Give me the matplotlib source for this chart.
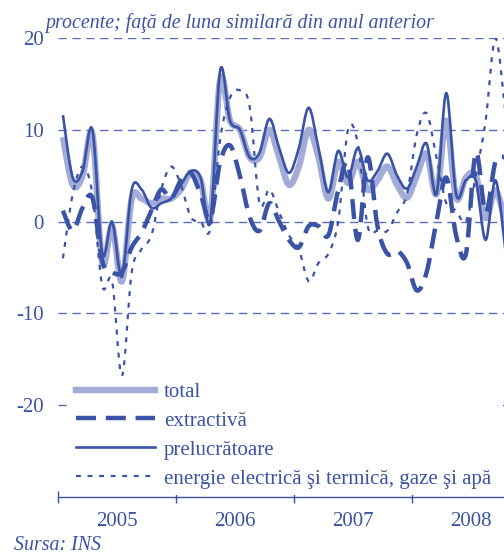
import numpy as np
import matplotlib
matplotlib.use("Agg")
import matplotlib.pyplot as plt
from matplotlib.path import Path
from matplotlib.patches import PathPatch
from matplotlib.lines import Line2D

# ---------------- data (monthly, Jan 2005 onwards) ----------------
years = ["2005", "2006", "2007", "2008"]
series_names = ["total", "extractivă", "prelucrătoare",
                "energie electrică şi termică, gaze şi apă"]

total = [9.2, 4, 5, 9.5, -4.5, -0.5, -6.5, 2.5, 2.5, 2, 2.5, 2.5,
         3.5, 5.3, 4.5, 0.5, 15.5, 11, 10, 7, 7, 10, 7, 4,
         6, 10, 7, 2.5, 6.5, 4.2, 6.5, 3.5, 4.5, 6, 4, 2.6,
         5, 7.4, 3, 11, 2.6, 4.8, 5, 0.4, 3.4, 0]
extractiva = [1.2, -1, 1.5, 2.6, -4.3, -5.5, -5.5, -2.8, -1.2, 1.2, 3.5, 2.5,
              4.5, 5.3, 3, 0.3, 6.5, 8.3, 5, 0.5, -1, 2, 0, -2,
              -2.8, -0.5, -0.5, -1.5, 3.4, 6.3, -2, 7, -0.5, -3.5, -3.2, -4.5,
              -7.5, -5.5, 0, 4.8, -1.5, -3.5, 7.5, 1, 6.5, 7]
prelucratoare = [11.6, 4.8, 5.5, 10, -3.5, 0, -6, 3.5, 3.5, 1.5, 2, 2.5,
                 4, 5.5, 4.8, 0, 16.5, 11, 10, 7, 7.5, 11.2, 8, 5.3,
                 8, 12.4, 8, 3.2, 7.7, 4.8, 8, 4.5, 5.5, 7.4, 5, 3.6,
                 6, 8.5, 3, 14, 3, 4.5, 4.5, -2, 4.5, -3]
energie = [-4, 3, 6, 3, -7, -6.5, -16.8, -5.5, -3, -1.5, 3.5, 6,
           4, 0.5, 0, -0.8, 9, 13.5, 14.3, 12.5, 2, 3.5, 1, -1.5,
           -3, -6.5, -4.5, -3.5, 0, 10, 8.5, -0.5, -1, -1, 1, 3,
           9.5, 11.8, 7, 2, 1.2, 0, 5, 11, 20, 12]
yticks = [-20, -10, 0, 10, 20]

# ---------------- style ----------------
BLUE = "#3a53a6"
LIGHT = "#a3acd8"
GRID = "#5a6eb8"
FONT = "Liberation Serif"
plt.rcParams["font.family"] = [FONT, "DejaVu Serif"]


def smooth_path(yvals):
    x = np.arange(len(yvals), dtype=float)
    pts = np.column_stack([x, np.asarray(yvals, dtype=float)])
    n = len(pts)
    verts = [pts[0]]
    codes = [Path.MOVETO]
    for i in range(n - 1):
        p0 = pts[i - 1] if i > 0 else pts[i]
        p1 = pts[i]
        p2 = pts[i + 1]
        p3 = pts[i + 2] if i + 2 < n else pts[i + 1]
        c1 = p1 + (p2 - p0) / 6.0
        c2 = p2 - (p3 - p1) / 6.0
        verts += [c1, c2, p2]
        codes += [Path.CURVE4] * 3
    return Path(np.array(verts), codes)


fig = plt.figure(figsize=(5.04, 5.54), dpi=100)
ax = fig.add_axes([58 / 504, 57 / 554, 446 / 504, 459 / 554])
ax.set_xlim(-0.5, 44.87)
ax.set_ylim(-30, 20)

styles = [
    (total, dict(edgecolor=LIGHT, lw=4.6, linestyle="-", zorder=2)),
    (energie, dict(edgecolor=BLUE, lw=1.6, linestyle=(0, (2.2, 3.0)), zorder=3)),
    (extractiva, dict(edgecolor=BLUE, lw=3.2, linestyle=(0, (4.5, 2.2)), zorder=4)),
    (prelucratoare, dict(edgecolor=BLUE, lw=1.9, linestyle="-", zorder=5)),
]
for vals, kw in styles:
    patch = PathPatch(smooth_path(vals), fill=False, capstyle="butt",
                      joinstyle="round", **kw)
    ax.add_patch(patch)

# grid
ax.set_yticks(yticks)
ax.set_yticklabels([str(v) for v in yticks])
ax.yaxis.grid(True, color=GRID, lw=1.0, linestyle=(0, (6, 4)))
ax.tick_params(axis="y", length=0, pad=10, labelsize=15, labelcolor=BLUE)

# x axis
ax.set_xticks([-0.5, 11.5, 23.5, 35.5])
ax.set_xticklabels([])
ax.set_xticks([5.5, 17.5, 29.5, 41.5], minor=True)
ax.set_xticklabels(years, minor=True)
ax.tick_params(axis="x", which="major", direction="inout", length=8,
               color=BLUE, width=1.0)
ax.tick_params(axis="x", which="minor", length=0, pad=11, labelsize=15,
               labelcolor=BLUE)

for s in ["left", "right", "top"]:
    ax.spines[s].set_visible(False)
ax.spines["bottom"].set_color(BLUE)
ax.spines["bottom"].set_linewidth(1.0)
ax.set_axisbelow(True)

# legend
handles = [
    Line2D([], [], color=LIGHT, lw=4.6),
    Line2D([], [], color=BLUE, lw=3.2, linestyle=(0, (4.5, 2.2))),
    Line2D([], [], color=BLUE, lw=1.9),
    Line2D([], [], color=BLUE, lw=1.6, linestyle=(0, (2.2, 3.0))),
]
leg = ax.legend(handles, series_names, loc="upper left",
                bbox_to_anchor=(70 / 504, 1 - 376 / 554),
                bbox_transform=fig.transFigure, borderaxespad=0,
                frameon=True, fancybox=False, framealpha=1.0,
                edgecolor="none", facecolor="white",
                handlelength=3.8, handletextpad=0.4, labelspacing=0.45,
                borderpad=0.3, prop={"family": FONT, "size": 15})
leg.set_zorder(10)
for t in leg.get_texts():
    t.set_color(BLUE)

fig.text(45 / 504, 1 - 28 / 554,
         "procente; faţă de luna similară din anul anterior",
         color=BLUE, fontsize=14.3, style="italic", va="baseline", ha="left")
fig.text(14 / 504, 1 - 550 / 554, "Sursa: INS", color=BLUE, fontsize=14.3,
         style="italic", va="baseline", ha="left")

fig.savefig("out.png", dpi=100)
